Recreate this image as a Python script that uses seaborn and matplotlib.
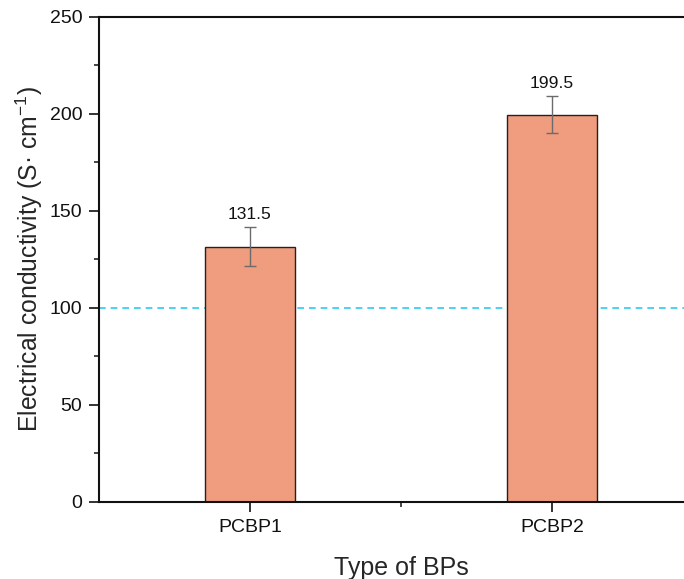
import matplotlib
matplotlib.use("Agg")
import matplotlib.pyplot as plt
import seaborn as sns
import pandas as pd
from matplotlib.ticker import MultipleLocator, FixedLocator

categories = ["PCBP1", "PCBP2"]
values = [131.5, 199.5]
errors = [10.0, 9.5]
value_labels = ["131.5", "199.5"]
reference_level = 100

sns.set_style("ticks")
plt.rcParams["font.family"] = ["Liberation Sans", "DejaVu Sans"]
plt.rcParams["mathtext.fontset"] = "custom"
plt.rcParams["mathtext.rm"] = "Liberation Sans"
plt.rcParams["mathtext.it"] = "Liberation Sans"

df = pd.DataFrame({"type": categories, "value": values})

fig = plt.figure(figsize=(6.84, 5.79), dpi=100)
ax = fig.add_axes([99 / 684, 1 - 502 / 579, (703 - 99) / 684, (502 - 16.5) / 579])

sns.barplot(data=df, x="type", y="value", ax=ax, color="#F09C7E", saturation=1,
            width=0.3, edgecolor="#222222", linewidth=1.0, errorbar=None, zorder=2)

ax.axhline(reference_level, color="#2BCBF0", linestyle=(0, (4, 3)), linewidth=1.2, zorder=1)

xpos = list(range(len(categories)))
ax.errorbar(xpos, values, yerr=errors, fmt="none", ecolor="#6b6b6b", elinewidth=1.0,
            capsize=4, capthick=1.0, zorder=3)

for x, v, e, lab in zip(xpos, values, errors, value_labels):
    ax.text(x, v + e + 2.5, lab, ha="center", va="bottom", fontsize=12.6, color="#111111")

ax.set_xlim(-0.5, 1.5)
ax.set_ylim(0, 250)
ax.yaxis.set_major_locator(MultipleLocator(50))
ax.yaxis.set_minor_locator(MultipleLocator(25))
ax.xaxis.set_minor_locator(FixedLocator([0.5]))

ax.tick_params(axis="both", which="major", direction="out", length=7, width=1.2,
               labelsize=14, colors="#111111", pad=5)
ax.tick_params(axis="both", which="minor", direction="out", length=3.5, width=1.2)
for s in ax.spines.values():
    s.set_linewidth(1.5)
    s.set_color("#111111")

ax.set_xlabel("Type of BPs", fontsize=18, labelpad=15)
ax.set_ylabel("Electrical conductivity (S· cm$^{-1}$)", fontsize=17.8)
ax.yaxis.set_label_coords(-0.09, 0.5)

fig.savefig("out.png", dpi=100)
